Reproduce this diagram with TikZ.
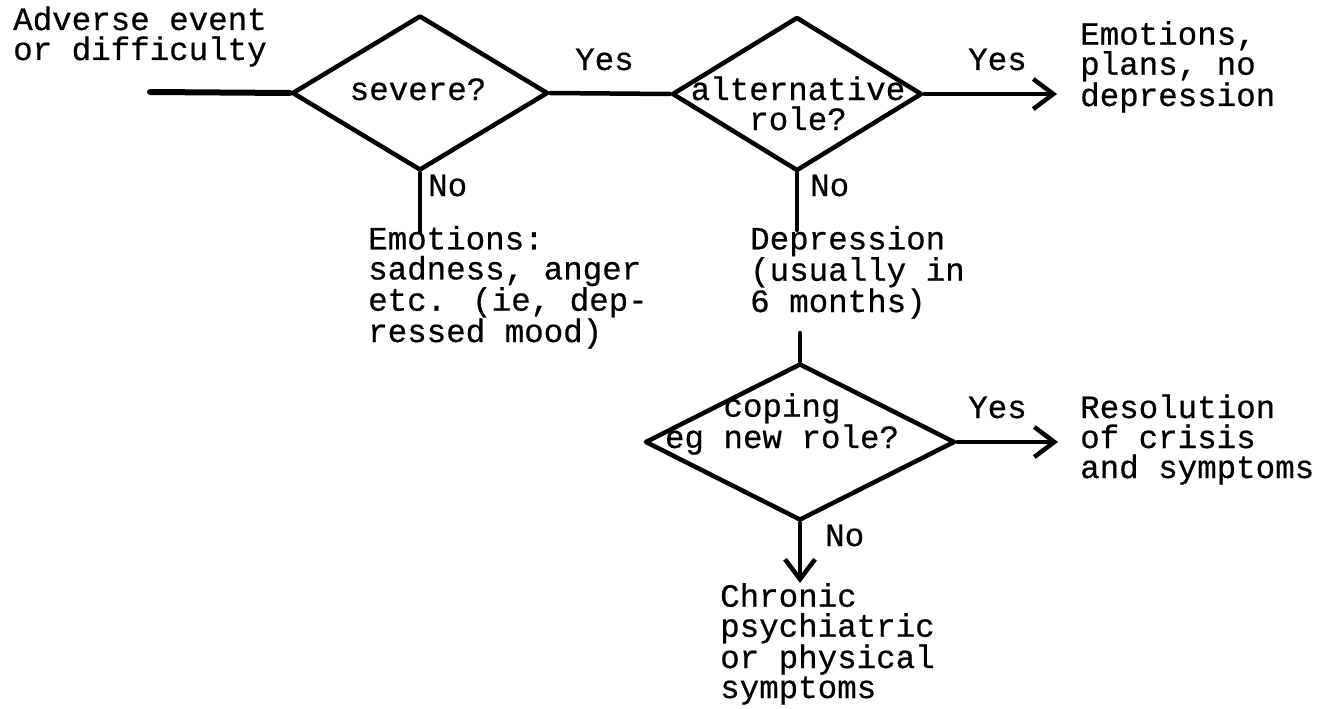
\documentclass[tikz,border=0pt]{standalone}
\usepackage{fontspec}
\newfontfamily\tw[FakeBold=0.6]{Liberation Mono}
\usetikzlibrary{shapes.geometric,arrows.meta}
\begin{document}
\begin{tikzpicture}[x=1pt,y=-1pt,
  txt/.style={font=\tw\fontsize{32.5pt}{30pt}\selectfont, inner sep=0pt, anchor=base west, align=left},
  ctxt/.style={font=\tw\fontsize{32.5pt}{30pt}\selectfont, inner sep=0pt, anchor=base, align=center},
  dia/.style={diamond, draw, line width=4.5pt, line join=round, inner sep=0pt},
  conn/.style={line width=4.5pt, line cap=round},
  arr/.style={conn, -{Straight Barb[length=20pt,width=30pt]}}]
\useasboundingbox (0,0) rectangle (1318,709);

% diamonds
\node[dia, minimum width=256pt, minimum height=155pt] (d1) at (420,93) {};
\node[dia, minimum width=250pt, minimum height=154pt] (d2) at (797,94) {};
\node[dia, minimum width=310pt, minimum height=157pt] (d3) at (800,442) {};

% texts inside diamonds (anchor = baseline of last line)
\node[ctxt] (q1) at (418,100) {severe?};
\node[ctxt] (q2) at (798,130) {alternative\\role?};
\node[ctxt] (q3) at (782,448) {coping\\eg new role?};

% text blocks (anchor = baseline of last line)
\node[txt] (tin) at (13,60) {Adverse event\\or difficulty};
\node[txt] (tsad) at (368,342) {Emotions:\\sadness, anger\\etc. (ie, dep-\\ressed mood)};
\node[txt] (tdep) at (750,312) {Depression\\(usually in\\6 months)};
\node[txt] (tplan) at (1080,106) {Emotions,\\plans, no\\depression};
\node[txt] (tres) at (1080,478) {Resolution\\of crisis\\and symptoms};
\node[txt] (tchr) at (720,698) {Chronic\\psychiatric\\or physical\\symptoms};

% labels
\node[txt] (y1) at (575,70) {Yes};
\node[txt] (y2) at (968,70) {Yes};
\node[txt] (y3) at (968,418) {Yes};
\node[txt] (n1) at (428,196) {No};
\node[txt] (n2) at (810,196) {No};
\node[txt] (n3) at (825,546) {No};

% free ends
\coordinate (inL) at (150,92);
\coordinate (e1) at (420,232);
\coordinate (e2) at (797,230);
\coordinate (s3) at (800,333);
\coordinate (e3) at (800,583);

% connectors
\draw[conn, line width=6pt] (inL) -- (d1.west);
\draw[conn] (d1.east) -- (d2.west);
\draw[arr] (d2.east) -- ([xshift=-23pt]d2.east -| tplan.west);
\draw[conn] (d1.south) -- (e1);
\draw[conn] (d2.south) -- (e2);
\draw[conn] (s3) -- (d3.north);
\draw[arr] (d3.east) -- ([xshift=-22pt]d3.east -| tres.west);
\draw[arr] (d3.south) -- (e3);
\end{tikzpicture}
\end{document}
